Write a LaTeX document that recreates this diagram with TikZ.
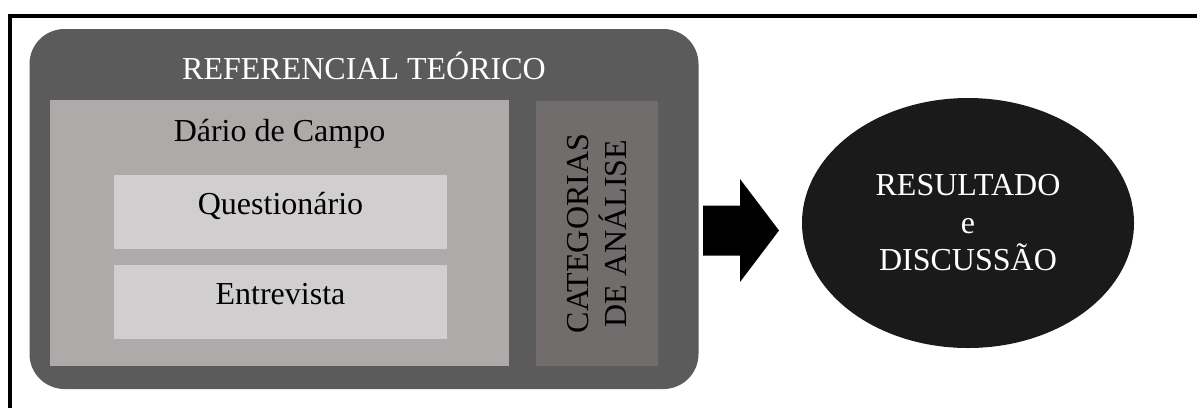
\documentclass[tikz,border=0pt]{standalone}
\usepackage{fontspec}
\setmainfont{Liberation Serif}
\usetikzlibrary{shapes.geometric}
\definecolor{outerc}{HTML}{5B5B5B}
\definecolor{darioc}{HTML}{AEAAA9}
\definecolor{lightc}{HTML}{D0CECE}
\definecolor{catc}{HTML}{716D6C}
\definecolor{ellc}{HTML}{1A1A1A}
\begin{document}
\begin{tikzpicture}[x=1pt,y=-1pt,
  box/.style={draw=none,inner sep=0pt,outer sep=0pt,anchor=center},
  txt/.style={inner sep=0pt,font=\fontsize{32}{38}\selectfont},
]
\useasboundingbox (0,0) rectangle (1197,408);
% frame
\draw[line width=4pt] (10,408) -- (10,16) -- (1197,16);
% outer box
\node[box,fill=outerc,rounded corners=35pt,minimum width=669pt,minimum height=360pt] (outer) at (364,209) {};
\node[txt,anchor=base,text=white] (reft) at (364,79) {REFERENCIAL TEÓRICO};
% dario box
\node[box,fill=darioc,minimum width=459pt,minimum height=266pt] (dario) at (279.5,233) {};
\node[txt,anchor=base] (dariot) at (279.5,141) {Dário de Campo};
% questionario
\node[box,fill=lightc,minimum width=333pt,minimum height=74pt] (quest) at (280.5,212) {};
\node[txt,anchor=base] (questt) at (280.5,214) {Questionário};
% entrevista
\node[box,fill=lightc,minimum width=333pt,minimum height=74pt] (entr) at (280.5,302) {};
\node[txt,anchor=base] (entrt) at (280.5,304) {Entrevista};
% categorias
\node[box,fill=catc,minimum width=122pt,minimum height=265pt] (cat) at (597,233.5) {};
\node[txt,rotate=90,align=center] (catt) at (cat.center) {CATEGORIAS\\DE ANÁLISE};
% arrow
\fill[black] (703,205.5) -- (740,205.5) -- (740,179) -- (779,230.5) -- (740,282) -- (740,255.5) -- (703,255.5) -- cycle;
% ellipse
\node[ellipse,fill=ellc,draw=none,inner sep=0pt,minimum width=332pt,minimum height=250pt,
  text=white,align=center,font=\fontsize{32}{37.5}\selectfont] (res) at (968,223) {RESULTADO\\e\\DISCUSSÃO};
\end{tikzpicture}
\end{document}
